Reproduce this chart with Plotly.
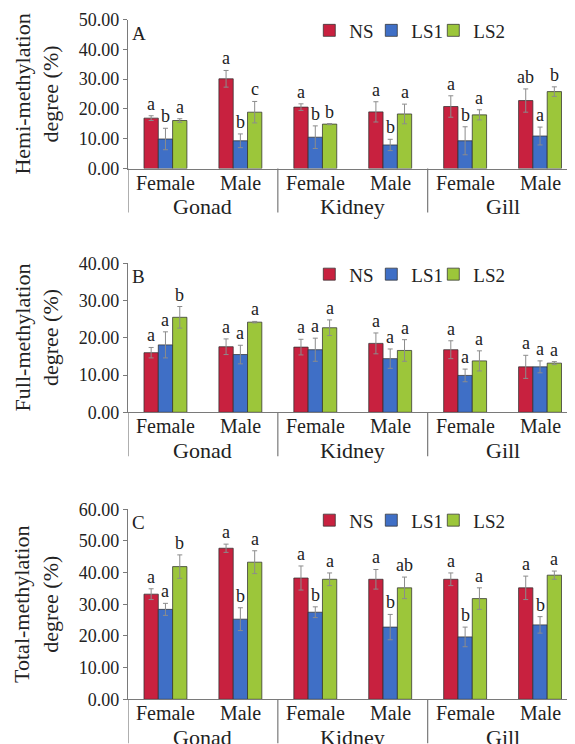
import plotly.graph_objects as go

# ---------------- data ----------------
sex_labels = ["Female", "Male", "Female", "Male", "Female", "Male"]
tissue_labels = ["Gonad", "Kidney", "Gill"]
series_names = ["NS", "LS1", "LS2"]

# Panel A: Hemi-methylation
hemi_NS = [16.9, 30.1, 20.6, 19.0, 20.8, 22.8]
hemi_NS_err = [0.8, 2.8, 1.1, 3.4, 3.6, 3.9]
hemi_LS1 = [9.9, 9.3, 10.5, 7.9, 9.3, 10.9]
hemi_LS1_err = [3.6, 2.3, 3.8, 1.9, 4.7, 3.0]
hemi_LS2 = [16.1, 18.9, 14.9, 18.3, 18.0, 25.8]
hemi_LS2_err = [0.6, 3.6, 0.2, 3.3, 1.7, 1.6]
hemi_sig_NS = ["a", "a", "a", "a", "a", "ab"]
hemi_sig_LS1 = ["b", "b", "b", "b", "b", "a"]
hemi_sig_LS2 = ["a", "c", "b", "a", "a", "b"]

# Panel B: Full-methylation
full_NS = [16.0, 17.6, 17.5, 18.5, 16.8, 12.2]
full_NS_err = [1.4, 2.1, 2.1, 2.8, 2.4, 3.1]
full_LS1 = [18.1, 15.5, 16.8, 14.4, 9.9, 12.2]
full_LS1_err = [3.5, 2.5, 3.1, 2.6, 1.7, 1.6]
full_LS2 = [25.5, 24.2, 22.7, 16.6, 13.8, 13.2]
full_LS2_err = [2.9, 0.2, 2.1, 2.9, 2.7, 0.4]
full_sig_NS = ["a", "a", "a", "a", "a", "a"]
full_sig_LS1 = ["a", "a", "a", "a", "a", "a"]
full_sig_LS2 = ["b", "a", "a", "a", "a", "a"]

# Panel C: Total-methylation
total_NS = [33.2, 47.7, 38.3, 37.9, 37.9, 35.2]
total_NS_err = [1.7, 1.3, 3.8, 3.1, 2.0, 3.7]
total_LS1 = [28.4, 25.3, 27.5, 22.8, 19.7, 23.5]
total_LS1_err = [1.9, 3.6, 1.7, 4.0, 3.1, 2.6]
total_LS2 = [41.9, 43.3, 37.9, 35.2, 31.8, 39.2]
total_LS2_err = [3.7, 3.6, 2.0, 3.4, 3.4, 1.3]
total_sig_NS = ["a", "a", "a", "a", "a", "a"]
total_sig_LS1 = ["a", "b", "b", "b", "b", "b"]
total_sig_LS2 = ["b", "a", "a", "ab", "a", "a"]

y_titles = ["Hemi-methylation<br>degree (%)", "Full-methylation<br>degree (%)", "Total-methylation<br>degree (%)"]
panel_letters = ["A", "B", "C"]
y_max = [50, 40, 60]

# ---------------- styling ----------------
colors = ["#C8213F", "#3F6FC6", "#9CC63A"]
FONT = "Liberation Serif, Times New Roman, serif"
TXT = "#222222"
AXC = "#7a7a7a"
# page body has an 8px margin, so the figure is drawn 8px smaller and offset
W, H = 567, 736
L = 119.5
BARGAP = 0.427
CAT_PX = 75.0

# panel pixel extents in figure coords (top of range, zero line)
panels_px = [(11.5, 160.5), (255.3, 404.3), (501.3, 691.3)]

panels = [
    ([hemi_NS, hemi_LS1, hemi_LS2], [hemi_NS_err, hemi_LS1_err, hemi_LS2_err],
     [hemi_sig_NS, hemi_sig_LS1, hemi_sig_LS2]),
    ([full_NS, full_LS1, full_LS2], [full_NS_err, full_LS1_err, full_LS2_err],
     [full_sig_NS, full_sig_LS1, full_sig_LS2]),
    ([total_NS, total_LS1, total_LS2], [total_NS_err, total_LS1_err, total_LS2_err],
     [total_sig_NS, total_sig_LS1, total_sig_LS2]),
]

fig = go.Figure()
annotations = []
shapes = []
x_idx = list(range(len(sex_labels)))
bar_w = (1 - BARGAP) / 3
x_range = [-0.5, -0.5 + (W - L) / CAT_PX]

layout_axes = {}
for p, (vals, errs, sigs) in enumerate(panels):
    n = "" if p == 0 else str(p + 1)
    xa, ya = "x" + n, "y" + n
    leg = "legend" + n
    top_px, zero_px = panels_px[p]
    dom = [1 - zero_px / H, 1 - top_px / H]
    dom_h = zero_px - top_px
    for k in range(3):
        fig.add_trace(go.Bar(
            x=x_idx, y=vals[k], name=series_names[k],
            xaxis=xa, yaxis=ya, offsetgroup=str(k), legend=leg,
            marker=dict(color=colors[k], line=dict(color="rgba(50,50,50,0.75)", width=1)),
            error_y=dict(type="data", array=errs[k], color="#8c8c8c", thickness=1, width=2.5),
            hoverinfo="skip",
        ))
        for i in x_idx:
            annotations.append(dict(
                x=i + (k - 1) * bar_w, y=vals[k][i] + errs[k][i], xref=xa, yref=ya,
                text=sigs[k][i], showarrow=False, yanchor="bottom", yshift=0,
                font=dict(family=FONT, size=18, color=TXT)))
    # invisible spacer entry so the last legend label is not clipped
    fig.add_trace(go.Scatter(
        x=[None], y=[None], mode="markers", name=" ", legend=leg, xaxis=xa, yaxis=ya,
        marker=dict(color="rgba(0,0,0,0)", size=1, line=dict(width=0, color="rgba(0,0,0,0)")),
        hoverinfo="skip"))
    layout_axes["xaxis" + n] = dict(
        domain=[0, 1], range=x_range, anchor=ya, showticklabels=False, showgrid=False,
        zeroline=False, showline=True, linecolor=AXC, linewidth=1.2, ticks="",
        automargin=False)
    layout_axes["yaxis" + n] = dict(
        domain=dom, range=[0, y_max[p]], anchor=xa, dtick=10, tickformat=".2f",
        showgrid=False, zeroline=False, showline=True, linecolor=AXC, linewidth=1.2,
        ticks="outside", ticklen=4, tickcolor=AXC, automargin=False,
        tickfont=dict(family=FONT, size=18, color=TXT))
    layout_axes[leg] = dict(
        orientation="h", x=(301 - L) / (W - L), y=1 - (top_px + 11) / H,
        xanchor="left", yanchor="middle",
        font=dict(family=FONT, size=19, color=TXT), bgcolor="rgba(0,0,0,0)",
        itemwidth=30, entrywidth=17, entrywidthmode="pixels", traceorder="normal")
    # sex labels
    for i in x_idx:
        annotations.append(dict(
            x=i, y=0, xref=xa, yref=ya + " domain", text=sex_labels[i], showarrow=False,
            yanchor="middle", yshift=-14, font=dict(family=FONT, size=20, color=TXT)))
    for j, t in enumerate(tissue_labels):
        annotations.append(dict(
            x=2 * j + 0.5, y=0, xref=xa, yref=ya + " domain", text=t, showarrow=False,
            yanchor="middle", yshift=-38, font=dict(family=FONT, size=22, color=TXT)))
    for xd in [-0.5, 1.5, 3.5]:
        shapes.append(dict(type="line", xref=xa, yref=ya + " domain", x0=xd, x1=xd,
                           y0=0, y1=-44 / dom_h, line=dict(color=AXC, width=1.2)))
    # panel letter
    annotations.append(dict(
        x=0.005, y=1, xref=xa + " domain", yref=ya + " domain", text=panel_letters[p],
        showarrow=False, xanchor="left", yanchor="top", yshift=-1,
        font=dict(family=FONT, size=19, color=TXT)))
    # y title
    annotations.append(dict(
        x=(28 - L) / (W - L), y=(dom[0] + dom[1]) / 2, xref="paper", yref="paper",
        text=y_titles[p], showarrow=False, textangle=-90, xanchor="center", yanchor="middle",
        font=dict(family=FONT, size=22, color=TXT)))

fig.update_layout(
    width=W, height=H, margin=dict(l=L, r=0, t=0, b=0, autoexpand=False),
    paper_bgcolor="white", plot_bgcolor="white",
    barmode="group", bargap=BARGAP, bargroupgap=0,
    annotations=annotations, shapes=shapes, **layout_axes)

fig.write_html("out.html")
